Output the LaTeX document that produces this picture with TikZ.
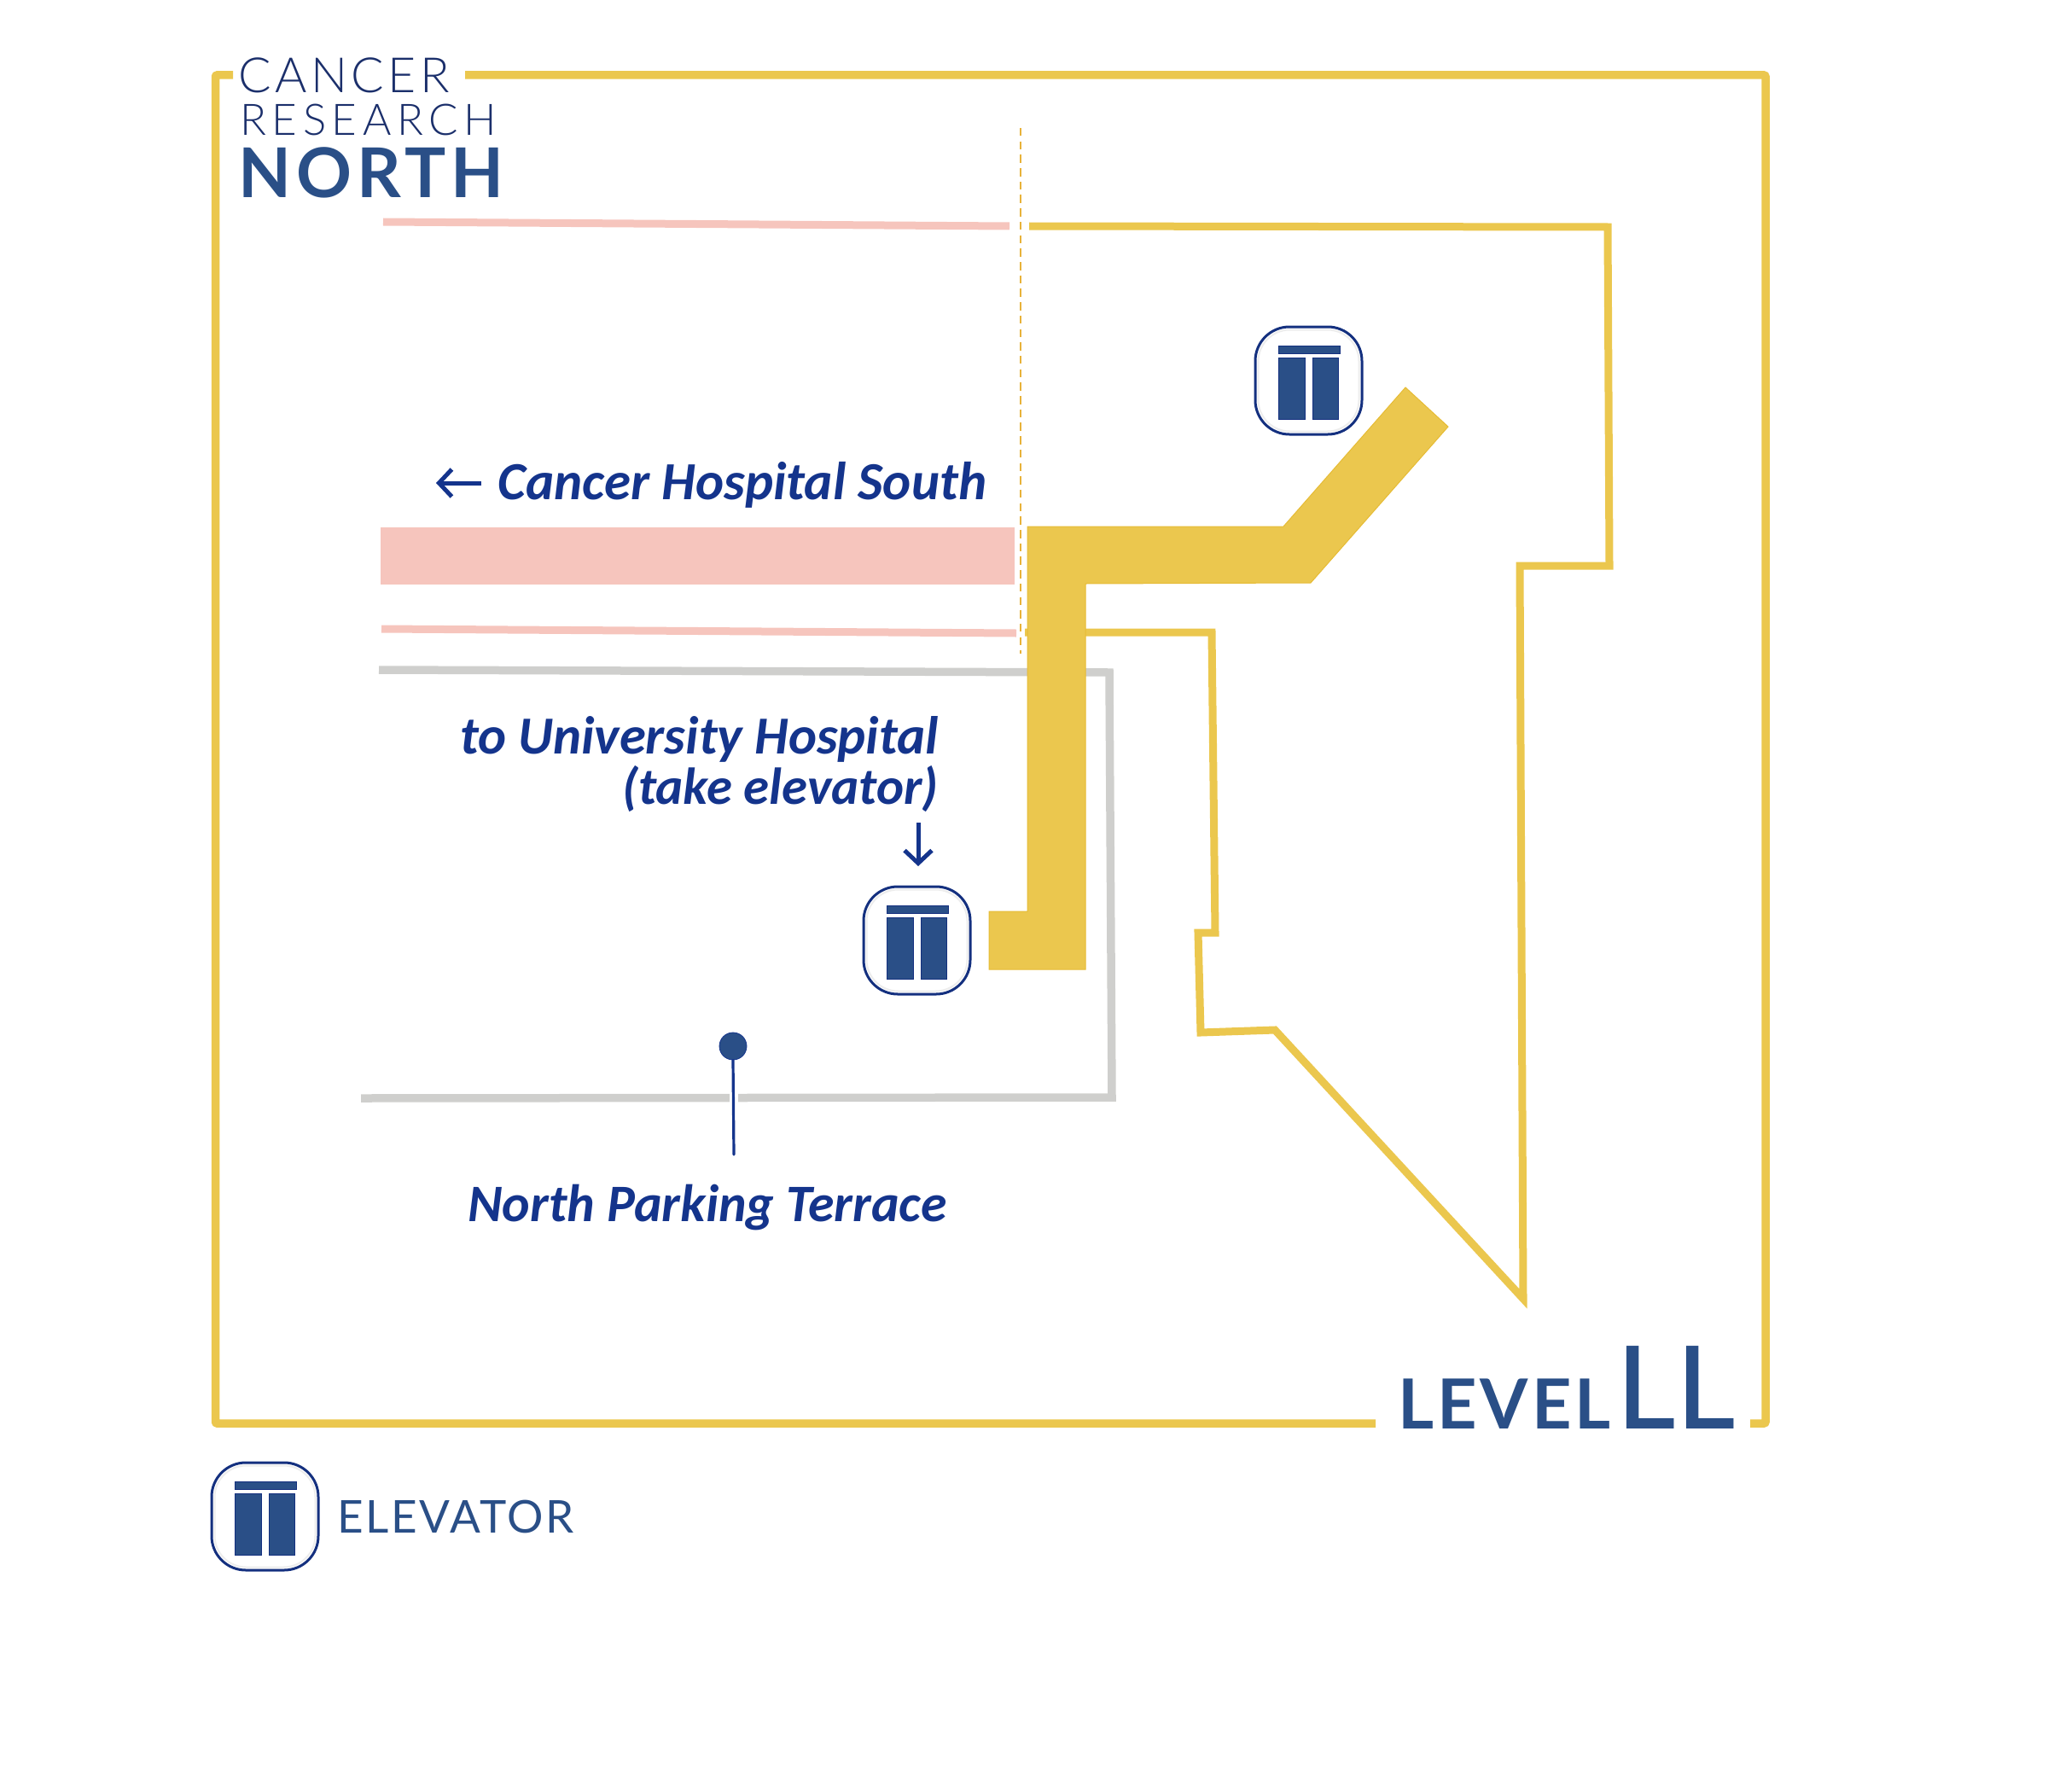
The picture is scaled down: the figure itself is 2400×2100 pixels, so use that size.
\documentclass[tikz,border=0pt]{standalone}
\usepackage{fontspec}
\usetikzlibrary{arrows.meta}
\setmainfont{Lato}
\newfontfamily\labelfont{Carlito}
\newfontfamily\lightfont[LetterSpace=8]{Lato Light}
\newfontfamily\lightwide[LetterSpace=13]{Lato Light}
\newfontfamily\northfont[LetterSpace=7.2]{Lato Bold}
\newfontfamily\levelfont[LetterSpace=5]{Lato Bold}
\newfontfamily\llfont{Lato Medium}
\newfontfamily\elevfont[LetterSpace=5]{Lato}
\definecolor{frameyellow}{HTML}{EBC74E}
\definecolor{edgeyellow}{HTML}{E6BB35}
\definecolor{dashyellow}{HTML}{E8B23A}
\definecolor{pinkband}{HTML}{F6C5BD}
\definecolor{grayline}{HTML}{CFCFCD}
\definecolor{titleblue}{HTML}{2A4F87}
\definecolor{navyline}{HTML}{14348C}
\definecolor{boxnavy}{HTML}{14307F}
\definecolor{darknavy}{HTML}{1B2F6B}
\definecolor{ringgray}{HTML}{EDEDED}
\tikzset{
  framepath/.style={draw=frameyellow,line width=9.5pt,line join=round,rounded corners=1pt},
  planpath/.style={draw=frameyellow,line width=9pt,miter limit=12},
  route/.style={fill=frameyellow,draw=edgeyellow,line width=1pt},
  pinkline/.style={draw=pinkband,line width=9pt},
  pinkrect/.style={fill=pinkband},
  grayroad/.style={draw=grayline,line width=9.5pt},
  dashline/.style={draw=dashyellow,line width=1.5pt,dash pattern=on 9.5pt off 6.2pt},
  labeltext/.style={text=navyline,inner sep=0pt},
  labelsize/.style={font=\labelfont\bfseries\itshape\fontsize{#1}{#1}\selectfont},
  arrowline/.style={draw=navyline,line width=5pt,-{Straight Barb[length=15pt,width=32pt,line width=5pt]}},
  pinstem/.style={draw=navyline,line width=3.2pt,line cap=round},
  pinhead/.style={circle,fill=titleblue,draw=navyline,line width=.8pt,minimum size=32pt,inner sep=0pt},
  gapmask/.style={fill=white},
  elevbox/.style={draw=boxnavy,line width=3pt,fill=white,rounded corners=40pt},
  elevring/.style={draw=ringgray,line width=2pt,rounded corners=37pt},
  elevdoor/.style={fill=titleblue,draw=boxnavy,line width=.8pt},
  elevator/.pic={
    \path[elevbox] (0,0) rectangle (125,126);
    \path[elevring] (3.5,3.5) rectangle (121.5,122.5);
    \path[elevdoor] (27,22) rectangle (99,31);
    \path[elevdoor] (27,36) rectangle (58,108);
    \path[elevdoor] (67,36) rectangle (97,108);
  }
}
\begin{document}
\begin{tikzpicture}[x=1pt,y=-1pt]
\useasboundingbox (0,0) rectangle (2400,2100);
% outer frame
\path[framepath] (273,88) -- (252.5,88) -- (252.5,1668) -- (1612,1668);
\path[framepath] (545,88) -- (2069,88) -- (2069,1668) -- (2051,1668);
% pink corridor
\path[pinkline] (449,260) -- (1183,265);
\path[pinkrect] (446,618) rectangle (1189,685);
\path[pinkline] (447,737) -- (1191,742);
\path[dashline] (1196,150) -- (1196,766);
% gray roads
\path[grayroad] (444,785) -- (1300,788) -- (1303,1286) -- (423,1287);
% plan outline
\path[planpath] (1206,265) -- (1884,266) -- (1886,663) -- (1781,663) -- (1785,1522) -- (1494,1207) -- (1407,1210) -- (1404,1093) -- (1424,1093) -- (1420,741) -- (1201,741);
% route
\path[route] (1204,617) -- (1504,617) -- (1647,454) -- (1697,500) -- (1536,683) -- (1272,684) -- (1272,1136) -- (1159,1136) -- (1159,1068) -- (1204,1068) -- cycle;
% elevators
\pic at (1471,383) {elevator};
\pic at (1012,1039) {elevator};
\pic at (248,1714) {elevator};
% pin
\path[gapmask] (855,1278) rectangle (865,1296);
\node[pinhead] (pin) at (859,1226) {};
\coordinate (pinend) at (860,1353);
\path[pinstem] (pin.south) -- (pinend);
% titles
\node[anchor=base west,inner sep=0pt,text=darknavy] (cancer) at (279,109) {\lightfont\fontsize{57}{57}\selectfont CANCER};
\node[anchor=base west,inner sep=0pt,text=darknavy] (research) at (281,159) {\lightwide\fontsize{51}{51}\selectfont RESEARCH};
\node[anchor=base west,inner sep=0pt,text=titleblue] (north) at (279.5,232) {\northfont\fontsize{80.5}{80.5}\selectfont NORTH};
\node[anchor=base west,inner sep=0pt,text=titleblue] (level) at (1638,1674) {\levelfont\fontsize{81}{81}\selectfont LEVEL};
\node[anchor=base east,inner sep=0pt,text=titleblue] (ll) at (2034,1674) {\llfont\fontsize{135}{135}\selectfont LL};
\node[anchor=base west,inner sep=0pt,text=titleblue] (elevlabel) at (395,1796) {\elevfont\fontsize{53}{53}\selectfont ELEVATOR};
% labels
\node[labeltext,labelsize=62.9,anchor=base west] (south) at (583.5,585) {Cancer Hospital South};
\coordinate (southstart) at (564,566);
\coordinate (southend) at (511,566);
\path[arrowline] (southstart) -- (southend);
\node[labeltext,labelsize=62.7,anchor=base east] (univ) at (1100,883) {to University Hospital};
\node[labeltext,labelsize=60.9,anchor=base east] (take) at (1100,942) {(take elevator)};
\coordinate (downstart) at (1076,964);
\coordinate (downend) at (1076,1015);
\path[arrowline] (downstart) -- (downend);
\node[labeltext,labelsize=61.8,anchor=base west] (parking) at (548,1431) {North Parking Terrace};
\end{tikzpicture}
\end{document}
